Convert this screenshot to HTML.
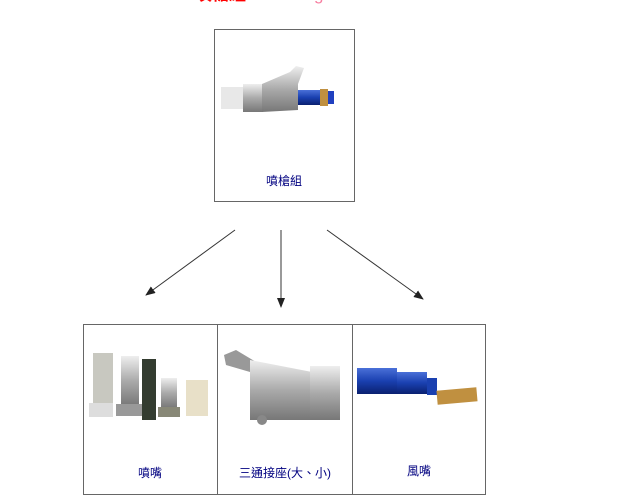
<!DOCTYPE html>
<html><head><meta charset="utf-8"><style>
html,body{margin:0;padding:0;background:#fff;width:644px;height:495px;overflow:hidden}
text{font-family:"Liberation Sans","Noto Sans CJK TC",sans-serif}
</style></head><body>
<svg width="644" height="495" viewBox="0 0 644 495" xmlns="http://www.w3.org/2000/svg">
<defs>
<marker id="a" markerWidth="10" markerHeight="8" refX="9" refY="4" orient="auto" markerUnits="userSpaceOnUse"><path d="M0,0 L10,4 L0,8 z" fill="#222"/></marker>
<linearGradient id="m" x1="0" y1="0" x2="0" y2="1"><stop offset="0" stop-color="#eee"/><stop offset=".5" stop-color="#aaa"/><stop offset="1" stop-color="#777"/></linearGradient>
<linearGradient id="b" x1="0" y1="0" x2="0" y2="1"><stop offset="0" stop-color="#4a70d8"/><stop offset=".5" stop-color="#1a40b0"/><stop offset="1" stop-color="#0a2070"/></linearGradient>
</defs>
<text x="195" y="0" font-size="17" font-weight="bold" fill="#f00">噴槍組</text>
<text x="263" y="0" font-size="17" fill="#f77ea0">Blasting Gun</text>
<rect x="214.5" y="29.5" width="140" height="172" fill="#fff" stroke="#666"/>
<rect x="221" y="87" width="22" height="22" fill="#e8e8e8"/>
<rect x="243" y="84" width="20" height="28" fill="url(#m)"/>
<path d="M262,84 L290,72 L296,66 L304,68 L298,84 L298,110 L262,112z" fill="url(#m)"/>
<rect x="298" y="90" width="22" height="15" fill="url(#b)"/>
<rect x="320" y="89" width="8" height="17" fill="#c09040"/>
<rect x="328" y="91" width="6" height="13" fill="#2040c0"/>
<text x="284" y="185" font-size="12" fill="#000080" text-anchor="middle">噴槍組</text>
<g stroke="#333" stroke-width="1" fill="none">
<line x1="235" y1="230" x2="146" y2="295" marker-end="url(#a)"/>
<line x1="281" y1="230" x2="281" y2="307" marker-end="url(#a)"/>
<line x1="327" y1="230" x2="423" y2="299" marker-end="url(#a)"/>
</g>
<rect x="83.5" y="324.5" width="402" height="170" fill="none" stroke="#666"/>
<line x1="217.5" y1="324" x2="217.5" y2="495" stroke="#666"/>
<line x1="352.5" y1="324" x2="352.5" y2="495" stroke="#666"/>
<rect x="93" y="353" width="20" height="50" fill="#c8c8c0"/>
<rect x="89" y="403" width="24" height="14" fill="#ddd"/>
<rect x="121" y="356" width="18" height="50" fill="url(#m)"/>
<rect x="116" y="404" width="26" height="12" fill="#999"/>
<rect x="142" y="359" width="14" height="61" fill="#333c30"/>
<rect x="161" y="378" width="16" height="30" fill="url(#m)"/>
<rect x="158" y="407" width="22" height="10" fill="#887"/>
<rect x="186" y="380" width="22" height="36" fill="#e8e0c8"/>
<path d="M224,355 L236,350 L256,362 L250,372 L226,365z" fill="#999"/>
<path d="M250,360 L312,372 L312,420 L250,420z" fill="url(#m)"/>
<rect x="310" y="366" width="30" height="54" fill="url(#m)"/>
<circle cx="262" cy="420" r="5" fill="#888"/>
<rect x="357" y="368" width="40" height="26" fill="url(#b)"/>
<rect x="397" y="372" width="30" height="22" fill="url(#b)"/>
<rect x="427" y="378" width="10" height="17" fill="#1a40b0"/>
<rect x="437" y="389" width="40" height="14" fill="#c09040" transform="rotate(-5 457 396)"/>
<text x="150" y="477" font-size="12" fill="#000080" text-anchor="middle">噴嘴</text>
<text x="285" y="477" font-size="12" fill="#000080" text-anchor="middle">三通接座(大、小)</text>
<text x="419" y="475" font-size="12" fill="#000080" text-anchor="middle">風嘴</text>
</svg>
</body></html>
